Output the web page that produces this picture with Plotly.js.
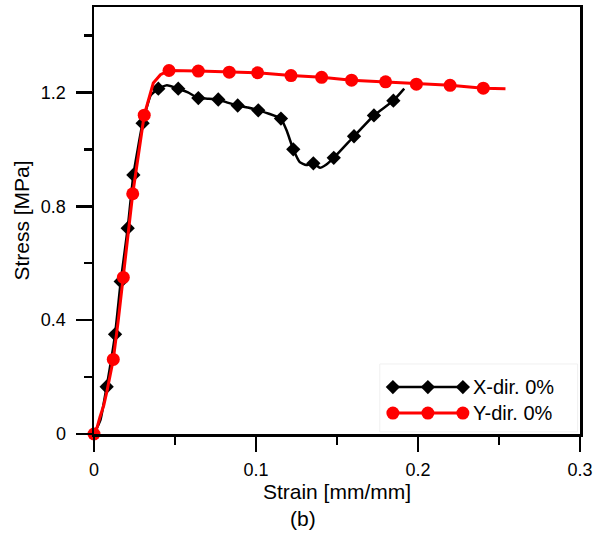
<!DOCTYPE html>
<html>
<head>
<meta charset="utf-8">
<script src="https://cdn.plot.ly/plotly-3.0.1.min.js"></script>
<style>html,body{margin:0;padding:0;background:#fff;}#chart{width:605px;height:533px;}</style>
</head>
<body>
<div id="chart"></div>
<script>
// ---- data ----
var xdirLineStrain = [0, 0.004, 0.0078, 0.013, 0.0165, 0.0208, 0.0243, 0.030, 0.035, 0.0397, 0.045, 0.052, 0.058, 0.0644, 0.070, 0.0767, 0.083, 0.0887, 0.095, 0.1014, 0.108, 0.1154, 0.119, 0.123, 0.127, 0.131, 0.1354, 0.1395, 0.143, 0.148, 0.1605, 0.1728, 0.1848, 0.1915];
var xdirLineStress = [0, 0.05, 0.166, 0.35, 0.536, 0.723, 0.91, 1.092, 1.19, 1.213, 1.225, 1.213, 1.2, 1.18, 1.178, 1.175, 1.163, 1.154, 1.147, 1.137, 1.125, 1.108, 1.065, 1.0, 0.955, 0.945, 0.951, 0.935, 0.945, 0.97, 1.046, 1.119, 1.171, 1.213];
var xdirMarkStrain = [0.0078, 0.013, 0.0165, 0.0208, 0.0243, 0.030, 0.0397, 0.052, 0.0644, 0.0767, 0.0887, 0.1014, 0.1154, 0.123, 0.1354, 0.148, 0.1605, 0.1728, 0.1848];
var xdirMarkStress = [0.166, 0.35, 0.536, 0.723, 0.91, 1.092, 1.213, 1.213, 1.18, 1.175, 1.154, 1.137, 1.108, 1.0, 0.951, 0.97, 1.046, 1.119, 1.171];

var ydirLineStrain = [0, 0.002, 0.0037, 0.006, 0.008, 0.0119, 0.015, 0.0181, 0.0239, 0.031, 0.0366, 0.041, 0.0463, 0.0644, 0.0835, 0.101, 0.1216, 0.1405, 0.159, 0.180, 0.199, 0.2198, 0.2403, 0.254];
var ydirLineStress = [0, 0.025, 0.06, 0.10, 0.15, 0.262, 0.40, 0.55, 0.844, 1.12, 1.233, 1.262, 1.277, 1.275, 1.271, 1.269, 1.259, 1.253, 1.243, 1.237, 1.229, 1.225, 1.215, 1.213];
var ydirMarkStrain = [0, 0.0119, 0.0181, 0.0239, 0.031, 0.0463, 0.0644, 0.0835, 0.101, 0.1216, 0.1405, 0.159, 0.180, 0.199, 0.2198, 0.2403];
var ydirMarkStress = [0, 0.262, 0.55, 0.844, 1.12, 1.277, 1.275, 1.271, 1.269, 1.259, 1.253, 1.243, 1.237, 1.229, 1.225, 1.215];

var seriesNames = ['X-dir. 0%', 'Y-dir. 0%'];
var xTickVals = [0, 0.1, 0.2, 0.3];
var xTickText = ['0', '0.1', '0.2', '0.3'];
var yTickVals = [0, 0.4, 0.8, 1.2];
var yTickText = ['0', '0.4', '0.8', '1.2'];
var xTitle = 'Strain [mm/mm]';
var yTitle = 'Stress [MPa]';
var caption = '(b)';

// ---- styling ----
var FONT = 'Liberation Sans, Arial, sans-serif';
var BLACK = '#000000', RED = '#ff0000';
var blackMarker = {symbol: 'diamond', size: 11, color: BLACK};
var redMarker = {symbol: 'circle', size: 13, color: RED};
// legend sample layout (paper fractions)
var LEG = {x: [0.615, 0.687, 0.759], y: [0.110, 0.049], textX: 0.775};

var traces = [
  {x: xdirLineStrain, y: xdirLineStress, mode: 'lines', line: {color: BLACK, width: 2.5, shape: 'spline', smoothing: 0.4}, showlegend: false, hoverinfo: 'skip'},
  {x: xdirMarkStrain, y: xdirMarkStress, mode: 'markers', marker: blackMarker, showlegend: false},
  {x: ydirLineStrain, y: ydirLineStress, mode: 'lines', line: {color: RED, width: 3, shape: 'linear'}, showlegend: false, hoverinfo: 'skip'},
  {x: ydirMarkStrain, y: ydirMarkStress, mode: 'markers', marker: redMarker, showlegend: false, cliponaxis: false},
  // custom legend samples (three markers per line, as in the reference)
  {x: LEG.x, y: [LEG.y[0], LEG.y[0], LEG.y[0]], xaxis: 'x2', yaxis: 'y2', mode: 'lines+markers', line: {color: BLACK, width: 2.5}, marker: blackMarker, showlegend: false, hoverinfo: 'skip'},
  {x: LEG.x, y: [LEG.y[1], LEG.y[1], LEG.y[1]], xaxis: 'x2', yaxis: 'y2', mode: 'lines+markers', line: {color: RED, width: 3}, marker: redMarker, showlegend: false, hoverinfo: 'skip'}
];

var layout = {
  width: 605, height: 533,
  margin: {l: 94, r: 25, t: 7, b: 99},
  paper_bgcolor: '#fff', plot_bgcolor: '#fff',
  font: {family: FONT, color: '#000', size: 18},
  showlegend: false,
  xaxis: {
    range: [0, 0.3], tickvals: xTickVals, ticktext: xTickText,
    ticks: 'outside', ticklen: 15, tickwidth: 2.5, tickcolor: '#000',
    minor: {dtick: 0.05, ticks: 'outside', ticklen: 8, tickwidth: 2.5, tickcolor: '#000', showgrid: false},
    showline: true, linewidth: 2.5, linecolor: '#000', mirror: true,
    showgrid: false, zeroline: false, tickfont: {size: 18},
    ticklabelstandoff: 3,
    title: {text: xTitle, font: {size: 21}, standoff: 5}
  },
  yaxis: {
    range: [0, 1.5], tickvals: yTickVals, ticktext: yTickText,
    ticks: 'outside', ticklen: 16, tickwidth: 2.5, tickcolor: '#000',
    minor: {tickvals: [0.2, 0.6, 1.0, 1.4], ticks: 'outside', ticklen: 8, tickwidth: 2.5, tickcolor: '#000', showgrid: false},
    showline: true, linewidth: 2.5, linecolor: '#000', mirror: true,
    showgrid: false, zeroline: false, tickfont: {size: 18},
    ticklabelstandoff: 6,
    title: {text: yTitle, font: {size: 21}, standoff: 6}
  },
  xaxis2: {overlaying: 'x', range: [0, 1], visible: false, fixedrange: true},
  yaxis2: {overlaying: 'y', range: [0, 1], visible: false, fixedrange: true},
  shapes: [
    {type: 'rect', xref: 'paper', yref: 'paper', x0: 0.588, x1: 0.995, y0: 0.005, y1: 0.164, line: {color: '#f0f0f0', width: 1}, fillcolor: 'rgba(0,0,0,0)', layer: 'below'}
  ],
  annotations: [
    {xref: 'paper', yref: 'paper', x: LEG.textX, y: LEG.y[0], text: seriesNames[0], showarrow: false, xanchor: 'left', yanchor: 'middle', font: {size: 20}},
    {xref: 'paper', yref: 'paper', x: LEG.textX, y: LEG.y[1], text: seriesNames[1], showarrow: false, xanchor: 'left', yanchor: 'middle', font: {size: 20}},
    {xref: 'paper', yref: 'paper', x: 0.43, y: -0.197, text: caption, showarrow: false, xanchor: 'center', yanchor: 'middle', font: {size: 21}}
  ]
};

Plotly.newPlot('chart', traces, layout, {displayModeBar: false, staticPlot: true});
</script>
</body>
</html>
